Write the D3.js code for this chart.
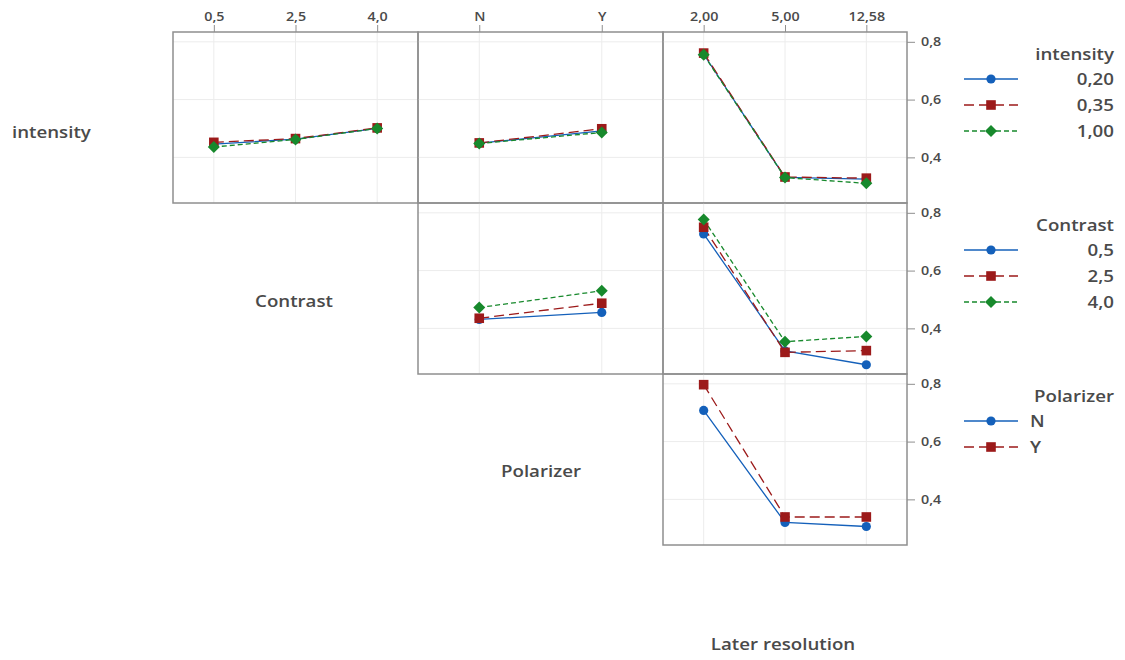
<!DOCTYPE html>
<html>
<head>
<meta charset="utf-8">
<script src="https://cdn.jsdelivr.net/npm/d3@7"></script>
<style>
  html, body { margin: 0; padding: 0; background: #fff; }
  svg { display: block; font-family: "Open Sans", "Noto Sans", sans-serif; }
</style>
</head>
<body>
<svg id="chart" width="1125" height="660"></svg>
<script>
// Factor levels
const intensityLevels = ["0,20", "0,35", "1,00"];
const contrastLevels = ["0,5", "2,5", "4,0"];
const polarizerLevels = ["N", "Y"];
const resolutionLevels = ["2,00", "5,00", "12,58"];
const yTicks = [0.4, 0.6, 0.8];

// Interaction means: one row per trace level, one value per x level
const intensityByContrast = [
  [0.446, 0.463, 0.500],
  [0.452, 0.465, 0.502],
  [0.436, 0.462, 0.500]
];
const intensityByPolarizer = [
  [0.449, 0.492],
  [0.450, 0.499],
  [0.448, 0.486]
];
const intensityByResolution = [
  [0.757, 0.331, 0.325],
  [0.761, 0.332, 0.328],
  [0.755, 0.330, 0.310]
];
const contrastByPolarizer = [
  [0.431, 0.455],
  [0.435, 0.487],
  [0.472, 0.530]
];
const contrastByResolution = [
  [0.727, 0.322, 0.274],
  [0.750, 0.317, 0.323],
  [0.777, 0.354, 0.372]
];
const polarizerByResolution = [
  [0.708, 0.320, 0.306],
  [0.797, 0.339, 0.339]
];

// Layout of the matrix
const colX = [173, 418, 663, 907];
const rowY = [32, 203, 374, 545];
const yDomain = [0.242, 0.834];

const styles = [
  { color: "#1460BA", dash: null, marker: "circle" },
  { color: "#9C1A1A", dash: "10,5", marker: "square" },
  { color: "#17892C", dash: "5,3", marker: "diamond" }
];

const panels = [
  { row: 0, col: 0, xLevels: contrastLevels, data: intensityByContrast },
  { row: 0, col: 1, xLevels: polarizerLevels, data: intensityByPolarizer },
  { row: 0, col: 2, xLevels: resolutionLevels, data: intensityByResolution },
  { row: 1, col: 1, xLevels: polarizerLevels, data: contrastByPolarizer },
  { row: 1, col: 2, xLevels: resolutionLevels, data: contrastByResolution },
  { row: 2, col: 2, xLevels: resolutionLevels, data: polarizerByResolution }
];

const legends = [
  { title: "intensity", levels: intensityLevels, y: 55, align: "end" },
  { title: "Contrast", levels: contrastLevels, y: 226, align: "end" },
  { title: "Polarizer", levels: polarizerLevels, y: 397, align: "start" }
];

const svg = d3.select("#chart");
const textColor = "#4a4a4a";
const stretch = 1.1;   // the UI font runs a little wider than Open Sans

// place a text element at (x, y), widened horizontally around its anchor
function wideText(sel, x, y) {
  sel.attr("x", 0).attr("y", 0)
    .attr("transform", `translate(${x},${y}) scale(${stretch},1)`);
  return sel;
}

function drawMarker(g, type, x, y, color) {
  if (type === "circle") {
    g.append("circle").attr("cx", x).attr("cy", y).attr("r", 4.6).attr("fill", color);
  } else if (type === "square") {
    g.append("rect").attr("x", x - 4.8).attr("y", y - 4.8)
      .attr("width", 9.6).attr("height", 9.6).attr("fill", color);
  } else {
    const s = 6;
    g.append("path")
      .attr("d", `M${x},${y - s}L${x + s},${y}L${x},${y + s}L${x - s},${y}Z`)
      .attr("fill", color);
  }
}

function styleTickText(axisG) {
  axisG.select(".domain").remove();
  axisG.selectAll("line").attr("stroke", "#8f8f8f");
  axisG.selectAll("text")
    .attr("font-size", 13).attr("font-weight", 600).attr("fill", textColor)
    .attr("font-family", "Open Sans, sans-serif");
}

panels.forEach(p => {
  const x0 = colX[p.col], x1 = colX[p.col + 1];
  const y0 = rowY[p.row], y1 = rowY[p.row + 1];
  const x = d3.scalePoint().domain(p.xLevels).range([x0, x1]).padding(0.5);
  const y = d3.scaleLinear().domain(yDomain).range([y1, y0]);
  const g = svg.append("g");

  // grid
  g.selectAll(".vg").data(p.xLevels).join("line")
    .attr("x1", d => x(d)).attr("x2", d => x(d))
    .attr("y1", y0).attr("y2", y1)
    .attr("stroke", "#ececec").attr("stroke-width", 1);
  g.selectAll(".hg").data(yTicks).join("line")
    .attr("x1", x0).attr("x2", x1)
    .attr("y1", d => y(d)).attr("y2", d => y(d))
    .attr("stroke", "#ececec").attr("stroke-width", 1);

  // trace lines, then markers on top
  p.data.forEach((vals, i) => {
    const st = styles[i];
    const line = d3.line().x((d, j) => x(p.xLevels[j])).y(d => y(d));
    g.append("path").datum(vals)
      .attr("d", line)
      .attr("fill", "none")
      .attr("stroke", st.color)
      .attr("stroke-width", 1.3)
      .attr("stroke-dasharray", st.dash);
  });
  p.data.forEach((vals, i) => {
    vals.forEach((v, j) => drawMarker(g, styles[i].marker, x(p.xLevels[j]), y(v), styles[i].color));
  });

  // frame
  g.append("rect").attr("x", x0).attr("y", y0)
    .attr("width", x1 - x0).attr("height", y1 - y0)
    .attr("fill", "none").attr("stroke", "#8f8f8f").attr("stroke-width", 1.5);

  // top axis on first row
  if (p.row === 0) {
    const ax = svg.append("g").attr("transform", `translate(0,${y0})`)
      .call(d3.axisTop(x).tickSize(7).tickPadding(4));
    styleTickText(ax);
    ax.selectAll("text").attr("transform", `scale(${stretch},1)`);
  }
  // right axis on last column
  if (p.col === 2) {
    const ay = svg.append("g").attr("transform", `translate(${x1},0)`)
      .call(d3.axisRight(y).tickValues(yTicks).tickSize(8).tickPadding(6)
        .tickFormat(d => d3.format(".1f")(d).replace(".", ",")));
    styleTickText(ay);
    ay.selectAll("text")
      .attr("transform", `scale(${stretch},1)`)
      .attr("x", 14 / stretch);
  }
});

// factor names on the diagonal
const factorLabels = [
  { text: "intensity", x: 12, y: 133, anchor: "start" },
  { text: "Contrast", x: 294, y: 302, anchor: "middle" },
  { text: "Polarizer", x: 541, y: 472, anchor: "middle" },
  { text: "Later resolution", x: 783, y: 645, anchor: "middle" }
];
factorLabels.forEach(d => {
  wideText(svg.append("text"), d.x, d.y)
    .attr("text-anchor", d.anchor)
    .attr("dominant-baseline", "middle")
    .attr("font-size", 17).attr("font-weight", 600).attr("fill", textColor)
    .text(d.text);
});

// legends
legends.forEach(L => {
  const g = svg.append("g");
  const tx = L.align === "end" ? 1114 : 1030;
  wideText(g.append("text"), 1114, L.y)
    .attr("text-anchor", "end").attr("dominant-baseline", "middle")
    .attr("font-size", 17).attr("font-weight", 600).attr("fill", textColor)
    .text(L.title);
  L.levels.forEach((lv, i) => {
    const yy = L.y + 24 + i * 26;
    const st = styles[i];
    g.append("line").attr("x1", 964).attr("x2", 1018).attr("y1", yy).attr("y2", yy)
      .attr("stroke", st.color).attr("stroke-width", 1.4)
      .attr("stroke-dasharray", st.dash);
    drawMarker(g, st.marker, 991, yy, st.color);
    wideText(g.append("text"), tx, yy + 1)
      .attr("text-anchor", L.align).attr("dominant-baseline", "middle")
      .attr("font-size", 17).attr("font-weight", 600).attr("fill", textColor)
      .text(lv);
  });
});
</script>
</body>
</html>
